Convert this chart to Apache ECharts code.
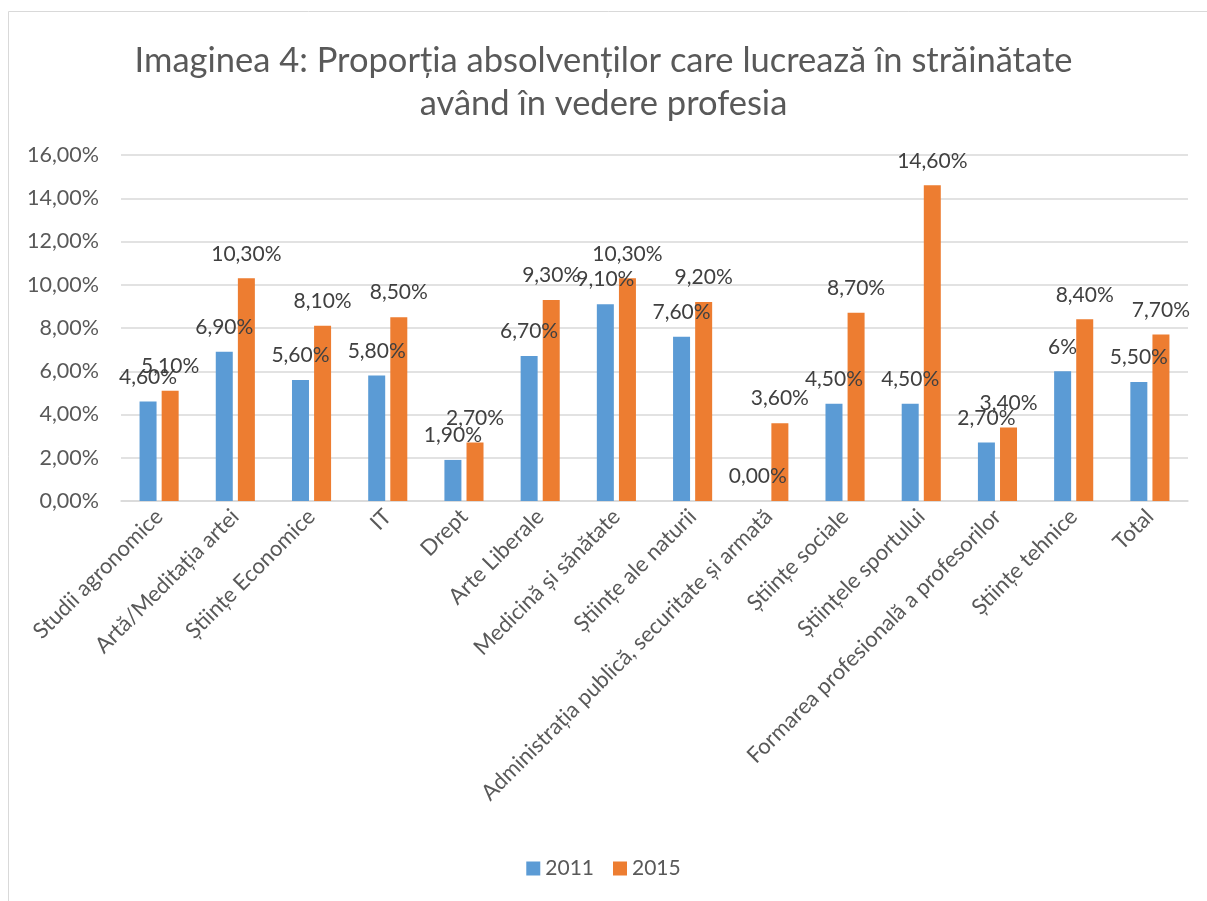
<!DOCTYPE html>
<html>
<head>
<meta charset="utf-8">
<script src="https://cdn.jsdelivr.net/npm/echarts@6/dist/echarts.min.js"></script>
<style>
  html, body { margin: 0; padding: 0; background: #fff; }
  #chart { width: 1207px; height: 901px; }
</style>
</head>
<body>
<div id="chart"></div>
<script>
const categories = [
  "Studii agronomice", "Artă/Meditația artei", "Științe Economice", "IT", "Drept",
  "Arte Liberale", "Medicină și sănătate", "Științe ale naturii",
  "Administrația publică, securitate și armată", "Științe sociale",
  "Științele sportului", "Formarea profesională a profesorilor", "Științe tehnice", "Total"
];
const values2011 = [4.6, 6.9, 5.6, 5.8, 1.9, 6.7, 9.1, 7.6, 0.0, 4.5, 4.5, 2.7, 6.0, 5.5];
const values2015 = [5.1, 10.3, 8.1, 8.5, 2.7, 9.3, 10.3, 9.2, 3.6, 8.7, 14.6, 3.4, 8.4, 7.7];
const yTicks = [0, 2, 4, 6, 8, 10, 12, 14, 16];
// Excel shows "6%" for this one cell of 2011
const shortLabels2011 = [12];

const pct = v => v.toFixed(2).replace(".", ",") + "%";
const txt = "#595959";
const font = "Lato, 'Open Sans', sans-serif";

const chart = echarts.init(document.getElementById("chart"));
const option = {
  animation: false,
  graphic: [{
    type: "rect",
    shape: { x: 8.5, y: 11.5, width: 1200, height: 900 },
    style: { fill: "none", stroke: "#d9d9d9", lineWidth: 1 },
    z: -1
  }],
  title: {
    text: "Imaginea 4: Proporția absolvenților care lucrează în străinătate\navând în vedere profesia",
    left: "center",
    top: 34,
    textStyle: { fontFamily: font, fontSize: 34.5, fontWeight: "normal", color: txt, lineHeight: 43 }
  },
  legend: {
    bottom: 17,
    left: "center",
    itemWidth: 14,
    itemHeight: 14,
    itemGap: 19,
    icon: "rect",
    textStyle: { fontFamily: font, fontSize: 21, color: txt }
  },
  grid: { left: 121, right: 19, top: 155, bottom: 400, containLabel: false },
  xAxis: {
    type: "category",
    data: categories,
    axisLine: { lineStyle: { color: "#d9d9d9", width: 1.5 } },
    axisTick: { show: false },
    axisLabel: { rotate: 45, interval: 0, margin: 12, fontFamily: font, fontSize: 22, color: txt }
  },
  yAxis: {
    type: "value",
    min: yTicks[0],
    max: yTicks[yTicks.length - 1],
    interval: 2,
    axisLine: { show: false },
    axisTick: { show: false },
    splitLine: { lineStyle: { color: "#d9d9d9", width: 1.5 } },
    axisLabel: { formatter: pct, margin: 22, fontFamily: font, fontSize: 21.5, color: txt }
  },
  series: [
    {
      name: "2011",
      type: "bar",
      data: values2011,
      barWidth: 17,
      barGap: "30%",
      itemStyle: { color: "#5b9bd5" },
      label: {
        show: true, position: "top", distance: 14,
        fontFamily: font, fontSize: 21, color: "#404040",
        formatter: p => shortLabels2011.includes(p.dataIndex) ? Math.round(p.value) + "%" : pct(p.value)
      }
    },
    {
      name: "2015",
      type: "bar",
      data: values2015,
      barWidth: 17,
      barGap: "30%",
      itemStyle: { color: "#ed7d31" },
      label: {
        show: true, position: "top", distance: 14,
        fontFamily: font, fontSize: 21, color: "#404040",
        formatter: p => pct(p.value)
      }
    }
  ]
};
chart.setOption(option);
</script>
</body>
</html>
